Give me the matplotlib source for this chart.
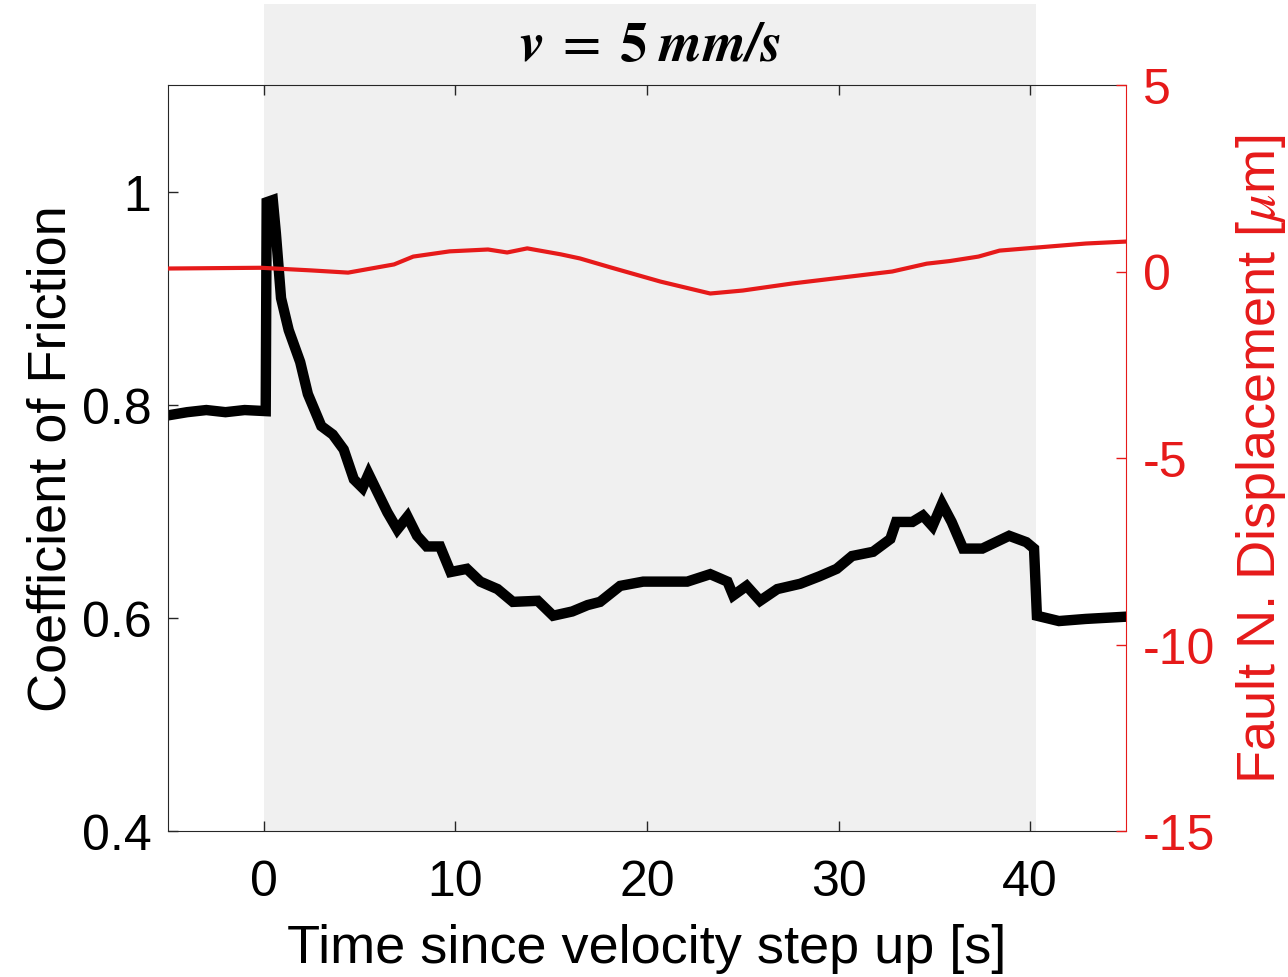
import matplotlib.pyplot as plt
import matplotlib.transforms as mtransforms
from matplotlib.patches import Rectangle

plt.rcParams['font.family'] = ['Liberation Sans', 'DejaVu Sans']
plt.rcParams['mathtext.fontset'] = 'stix'
plt.rcParams['axes.unicode_minus'] = False

# friction (left axis)
t_fric = [-5, -4, -3, -2, -1, 0.1, 0.15, 0.47, 0.63, 0.9, 1.3, 1.9, 2.3, 3.0, 3.6, 4.17,
          4.7, 5.15, 5.47, 5.93, 6.45, 6.97, 7.5, 8.0, 8.5, 9.2, 9.75, 10.6, 11.3, 12.2,
          13.0, 14.3, 15.1, 16.1, 16.9, 17.55, 18.6, 19.8,
          21.0, 22.1, 23.3, 24.2, 24.5, 25.2, 25.9, 26.8, 28.0, 29.0, 29.9, 30.7, 31.8,
          32.7, 33.0, 33.85, 34.4, 34.9, 35.4, 35.9, 36.5, 37.5, 38.2, 38.9, 39.8, 40.2,
          40.35, 41.5, 42.9, 44.9]
friction = [0.790, 0.793, 0.795, 0.793, 0.795, 0.794, 0.99, 0.992, 0.961, 0.90, 0.87, 0.84,
            0.81, 0.78, 0.772, 0.758, 0.730, 0.722, 0.735, 0.718, 0.699, 0.683, 0.695, 0.677,
            0.667, 0.667, 0.643, 0.646, 0.634, 0.627, 0.615, 0.616, 0.602, 0.606, 0.612,
            0.615, 0.630, 0.634, 0.634, 0.634, 0.641, 0.634, 0.621, 0.630,
            0.616, 0.627, 0.632, 0.639, 0.646, 0.658, 0.662, 0.674, 0.690, 0.690, 0.696,
            0.686, 0.707, 0.690, 0.665, 0.665, 0.671, 0.677, 0.671, 0.665, 0.602, 0.597,
            0.599, 0.601]

# fault normal displacement (right axis), microns
t_disp = [-5.0, -0.15, 2.45, 4.4, 6.8, 7.8, 9.7, 11.7, 12.7, 13.75, 15.5, 16.5, 18.1,
          20.7, 23.3, 25.0, 27.6, 30.2, 32.8, 34.6, 35.8, 37.3, 38.4, 41.0, 42.9, 44.9]
disp = [0.08, 0.1, 0.03, -0.03, 0.19, 0.40, 0.54, 0.59, 0.51, 0.62, 0.46, 0.35, 0.11,
        -0.27, -0.59, -0.51, -0.32, -0.16, 0.0, 0.21, 0.28, 0.40, 0.56, 0.67, 0.75, 0.80]

step_start = 0
step_end = 40.3

red = (0.9, 0.1, 0.1)
fs_tick = 36
fs_lab = 39

fig = plt.figure(figsize=(12.88, 9.78), dpi=100)
ax = fig.add_axes([168/1288, 1-832/978, (1126-168)/1288, (832-86)/978])

# shaded velocity step window, goes above the axes up to the title
trans = mtransforms.blended_transform_factory(ax.transData, ax.transAxes)
ax.add_patch(Rectangle((step_start, 0), step_end-step_start, (832-5)/746, transform=trans,
                       facecolor=(0.94, 0.94, 0.94), edgecolor='none', clip_on=False, zorder=0))

ax.plot(t_fric, friction, color='black', lw=7.5, solid_joinstyle='miter', zorder=2)
ax.set_xlim(-5, 45)
ax.set_ylim(0.4, 1.1)
ax.set_xticks([0, 10, 20, 30, 40])
ax.set_yticks([0.4, 0.6, 0.8, 1.0])
ax.set_yticklabels(['0.4', '0.6', '0.8', '1'])
ax.tick_params(direction='in', length=7, width=1, labelsize=fs_tick, top=True,
               colors=(0.15, 0.15, 0.15), labelcolor='black', pad=12)
ax.tick_params(axis='x', pad=20)
for s in ['left', 'bottom', 'top']:
    ax.spines[s].set_color((0.15, 0.15, 0.15))
ax.spines['right'].set_visible(False)
ax.set_xlabel('Time since velocity step up [s]', fontsize=fs_lab, labelpad=13)
ax.set_ylabel('Coefficient of Friction', fontsize=fs_lab, labelpad=4)

ax2 = ax.twinx()
ax2.plot(t_disp, disp, color=red, lw=3, zorder=3)
ax2.set_ylim(-15, 5)
ax2.set_yticks([-15, -10, -5, 0, 5])
ax2.tick_params(direction='in', length=7, width=1, labelsize=fs_tick, colors=red, pad=12)
for s in ['left', 'bottom', 'top']:
    ax2.spines[s].set_visible(False)
ax2.spines['right'].set_color(red)
ax2.set_ylabel(r'Fault N. Displacement [$\mu$m]', fontsize=fs_lab, color=red, labelpad=14)

fig.text(650/1288, 1-47/978, r'$\mathbfit{v}\;=\;\mathbf{5}\;\mathbfit{mm/s}$',
         fontsize=40, ha='center', va='center')

fig.savefig('out.png', dpi=100)
